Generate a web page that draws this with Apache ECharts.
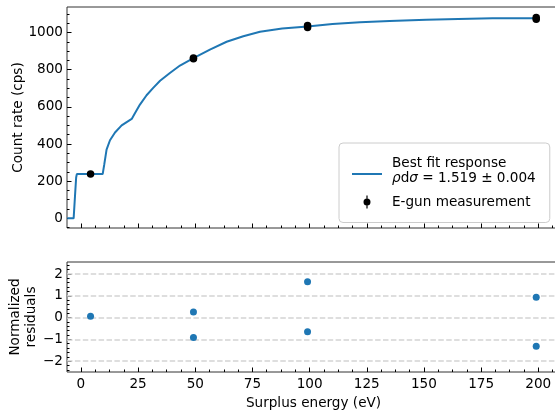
<!DOCTYPE html>
<html>
<head>
<meta charset="utf-8">
<script src="https://cdn.jsdelivr.net/npm/echarts@6/dist/echarts.min.js"></script>
<style>
  html, body { margin: 0; padding: 0; background: #fff; }
  #chart { width: 555px; height: 410px; }
</style>
</head>
<body>
<div id="chart"></div>
<script>
// Best-fit detector response (count rate vs surplus energy)
const fitEnergy = [-6, -3.2, -2.6, -2.1, -1.8, 9.5, 10.2, 11.2, 12.7, 14.9, 17.8, 20.0, 22.2, 23.6,
                   25.8, 28.7, 31.6, 34.6, 38.9, 43.3, 49.2, 56.4, 63.7, 71.0, 78.3, 88, 99.1,
                   110, 122, 135, 151, 165, 180, 199.5];
const fitRate = [0, 0, 120, 220, 238, 238, 290, 370, 420, 462, 500, 518, 535, 565,
                 612, 662, 702, 740, 782, 822, 862, 908, 950, 980, 1004, 1021, 1032,
                 1045, 1055, 1062, 1069, 1073, 1076, 1077];

// E-gun measurements with 1-sigma uncertainties
const measEnergy = [4.2, 49.2, 49.2, 99.1, 99.1, 199.1, 199.1];
const measRate = [238, 863, 858, 1037, 1027, 1081, 1071];
const measErr = [2.2, 4.2, 4.2, 4.5, 4.5, 4.6, 4.6];

// Normalized residuals (data - model) / sigma
const residuals = [0.06, 0.26, -0.92, 1.64, -0.65, 0.93, -1.32];

// Fit result
const fitParam = '1.519';
const fitParamErr = '0.004';

// Tick values
const energyTicks = [0, 25, 50, 75, 100, 125, 150, 175, 200];
const rateTicks = [0, 200, 400, 600, 800, 1000];
const residTicks = [-2, -1, 0, 1, 2];

const FONT = 'DejaVu Sans';
const FS = 13.6;
const BLUE = '#1f77b4';

function minorValues(lo, hi, step, majors) {
  const out = [];
  for (let k = Math.ceil(lo / step - 1e-9); k * step <= hi + 1e-9; k++) {
    const v = +(k * step).toFixed(6);
    if (!majors.some(m => Math.abs(m - v) < 1e-9)) out.push(v);
  }
  return out;
}

const X_MIN = -6.1, X_MAX = 209.5;
const Y_MIN = -52, Y_MAX = 1137;
const R_MIN = -2.5, R_MAX = 2.55;

const energyMinor = minorValues(X_MIN, X_MAX, 6.25, energyTicks);
const rateMinor = minorValues(Y_MIN, Y_MAX, 50, rateTicks);
const residMinor = minorValues(R_MIN, R_MAX, 0.2, residTicks);

const minus = v => String(v).replace('-', '\u2212');
const labelStyle = { color: '#000', fontFamily: FONT, fontSize: FS };

function axis(extra, values, len, labels) {
  return Object.assign({
    type: 'value',
    nameMoveOverlap: false,
    axisLine: { show: false, onZero: false },
    splitLine: { show: false },
    axisTick: { show: true, inside: true, length: len, lineStyle: { color: '#000', width: 1 }, customValues: values },
    axisLabel: labels ? Object.assign({ customValues: values, formatter: minus }, labelStyle, labels) : { show: false }
  }, extra);
}

// Legend handles: 35x14 boxes; the short line / dot-with-bar sit in the left 30px
const LINE_HANDLE = 'path://M0,9.5H30V11.5H0Z M0,0H0.1V0.1H0Z M34.9,13.9H35V14H34.9Z';
const ERR_HANDLE = 'path://M14.4,0.5H15.6V13.5H14.4Z M11.5,7A3.5,3.5 0 1 1 18.5,7A3.5,3.5 0 1 1 11.5,7Z ' +
                   'M0,0H0.1V0.1H0Z M34.9,13.9H35V14H34.9Z';

const chart = echarts.init(document.getElementById('chart'), null, { renderer: 'canvas' });

const errorData = measEnergy.map((x, i) => [x, measRate[i], measErr[i]]);

const gridBase = { left: 67, right: -5, show: true, borderColor: '#333', borderWidth: 1,
                   backgroundColor: 'transparent', containLabel: false, outerBoundsMode: 'none' };

chart.setOption({
  animation: false,
  textStyle: { fontFamily: FONT },
  grid: [
    Object.assign({ top: 7, height: 221 }, gridBase),
    Object.assign({ top: 262, height: 110 }, gridBase)
  ],
  xAxis: [
    axis({ gridIndex: 0, position: 'bottom', min: X_MIN, max: X_MAX }, energyTicks, 4.5, null),
    axis({ gridIndex: 0, position: 'bottom', min: X_MIN, max: X_MAX }, energyMinor, 2.5, null),
    axis({ gridIndex: 1, position: 'bottom', min: X_MIN, max: X_MAX, name: 'Surplus energy (eV)', nameLocation: 'middle',
           nameGap: 24, nameTextStyle: labelStyle }, energyTicks, 4.5, { margin: 5 }),
    axis({ gridIndex: 1, position: 'bottom', min: X_MIN, max: X_MAX }, energyMinor, 2.5, null)
  ],
  yAxis: [
    axis({ gridIndex: 0, position: 'left', min: Y_MIN, max: Y_MAX, name: 'Count rate (cps)', nameLocation: 'middle',
           nameGap: 42, nameTextStyle: labelStyle }, rateTicks, 4.5, { margin: 4 }),
    axis({ gridIndex: 0, position: 'left', min: Y_MIN, max: Y_MAX }, rateMinor, 2.5, null),
    axis({ gridIndex: 1, position: 'left', min: R_MIN, max: R_MAX, name: 'Normalized\nresiduals', nameLocation: 'middle',
           nameGap: 28, nameTextStyle: Object.assign({ lineHeight: 15.5 }, labelStyle) }, residTicks, 4.5, { margin: 4 }),
    axis({ gridIndex: 1, position: 'left', min: R_MIN, max: R_MAX }, residMinor, 2.5, null)
  ],
  legend: {
    left: 339, top: 143,
    orient: 'vertical',
    padding: [12.5, 14, 13, 13],
    itemGap: 9,
    itemWidth: 35,
    itemHeight: 14,
    symbolKeepAspect: true,
    backgroundColor: 'rgba(255,255,255,0.8)',
    borderColor: '#cccccc',
    borderWidth: 1,
    borderRadius: 4,
    selectedMode: false,
    textStyle: {
      color: '#000', fontFamily: FONT, fontSize: FS, lineHeight: 15,
      rich: { i: { fontStyle: 'italic', fontFamily: FONT, fontSize: FS, lineHeight: 15 } }
    },
    formatter: name => name === 'fit'
      ? 'Best fit response\n{i|\u03c1}d{i|\u03c3} = ' + fitParam + ' \u00b1 ' + fitParamErr
      : name,
    data: [
      { name: 'fit', icon: LINE_HANDLE },
      { name: 'E-gun measurement', icon: ERR_HANDLE }
    ]
  },
  series: [
    {
      name: 'fit', type: 'line', xAxisIndex: 0, yAxisIndex: 0,
      data: fitEnergy.map((x, i) => [x, fitRate[i]]),
      symbol: 'none', showSymbol: false,
      lineStyle: { color: BLUE, width: 2 }, itemStyle: { color: BLUE },
      z: 2
    },
    {
      name: 'errbars', type: 'custom', xAxisIndex: 0, yAxisIndex: 0,
      data: errorData,
      renderItem: (params, api) => {
        const x = api.value(0), y = api.value(1), e = api.value(2);
        const a = api.coord([x, y + e]), b = api.coord([x, y - e]);
        return { type: 'line', shape: { x1: a[0], y1: a[1], x2: b[0], y2: b[1] },
                 style: { stroke: '#000', lineWidth: 1.5 } };
      },
      z: 3
    },
    {
      name: 'E-gun measurement', type: 'scatter', xAxisIndex: 0, yAxisIndex: 0,
      data: measEnergy.map((x, i) => [x, measRate[i]]),
      symbol: 'circle', symbolSize: 7.5,
      itemStyle: { color: '#000', opacity: 1 },
      z: 4
    },
    {
      name: 'residuals', type: 'scatter', xAxisIndex: 2, yAxisIndex: 2,
      data: measEnergy.map((x, i) => [x, residuals[i]]),
      symbol: 'circle', symbolSize: 7,
      itemStyle: { color: BLUE, opacity: 1 },
      z: 3,
      markLine: {
        silent: true, z: 1, symbol: ['none', 'none'], animation: false,
        label: { show: false },
        lineStyle: { color: '#d4d4d4', type: [5.5, 2.4], width: 1.5 },
        emphasis: { disabled: true },
        data: residTicks.map(v => ({ yAxis: v }))
      }
    }
  ]
});
</script>
</body>
</html>
